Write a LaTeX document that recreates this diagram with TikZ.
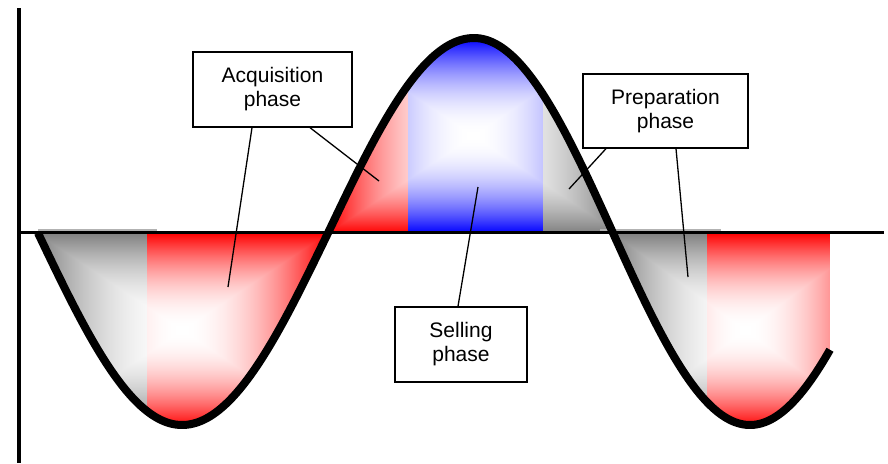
\documentclass[tikz,border=0pt]{standalone}
\usepackage{fontspec}
\setmainfont{Liberation Sans}
\pgfdeclarefunctionalshading{boxred}{\pgfpoint{-50bp}{-50bp}}{\pgfpoint{50bp}{50bp}}{}{abs exch abs 2 copy lt {exch} if pop 25 div dup 1 gt {pop 1} if dup mul 1 exch sub dup 1 3 1 roll}
\pgfdeclarefunctionalshading{boxblue}{\pgfpoint{-50bp}{-50bp}}{\pgfpoint{50bp}{50bp}}{}{abs exch abs 2 copy lt {exch} if pop 25 div dup 1 gt {pop 1} if dup mul 1 exch sub dup 1}
\pgfdeclarefunctionalshading{boxgray}{\pgfpoint{-50bp}{-50bp}}{\pgfpoint{50bp}{50bp}}{}{abs exch abs 2 copy lt {exch} if pop 25 div dup 1 gt {pop 1} if dup mul 0.5 mul 1 exch sub dup dup}
\tikzset{
  curve/.style={line width=8pt, line join=round, black},
  axisline/.style={black},
  label box/.style={draw, line width=1.3pt, fill=white, inner sep=0pt, align=center,
     font=\fontsize{21}{24}\selectfont},
  connector/.style={line width=1.3pt, black},
  rimline/.style={line width=1.5pt, black!30},
  wave/.style={variable=\t, samples=#1},
}
\begin{document}
\begin{tikzpicture}[x=1pt,y=-1pt,
  declare function={
    WX(\t)=(\t<=90) ? (38+\t/90*144) : ((\t<=180) ? (182+(\t-90)/90*146) : ((\t<=270) ? (328+(\t-180)/90*146) : ((\t<=360) ? (474+(\t-270)/90*139) : (613+(\t-360)/90*137))));
    WY(\t)=233+((sin(\t)>0) ? 192 : 195)*sin(\t);
  }]
\useasboundingbox (0,0) rectangle (888,463);
% left trough fills
\begin{scope}
  \clip plot[wave=91, domain=0:180] ({WX(\t)},{WY(\t)}) -- cycle;
  \begin{scope}
    \clip (30,225) rectangle (147,440);
    \shade[shading=boxgray] (37,233) rectangle (327,427);
  \end{scope}
  \begin{scope}
    \clip (147,225) rectangle (340,440);
    \shade[shading=boxred] (37,233) rectangle (327,427);
  \end{scope}
\end{scope}
% peak fills
\begin{scope}
  \clip plot[wave=91, domain=180:360] ({WX(\t)},{WY(\t)}) -- cycle;
  \begin{scope}
    \clip (320,30) rectangle (408,240);
    \shade[shading=boxred] (328,38) rectangle (618,233);
  \end{scope}
  \begin{scope}
    \clip (408,30) rectangle (543,240);
    \shade[shading=boxblue] (328,38) rectangle (618,233);
  \end{scope}
  \begin{scope}
    \clip (543,30) rectangle (620,240);
    \shade[shading=boxgray] (328,38) rectangle (618,233);
  \end{scope}
\end{scope}
% right trough fills
\begin{scope}
  \clip plot[wave=60, domain=360:502.55] ({WX(\t)},{WY(\t)}) -- (830,233) -- cycle;
  \begin{scope}
    \clip (605,225) rectangle (707,440);
    \shade[shading=boxgray] (613,233) rectangle (877,427);
  \end{scope}
  \begin{scope}
    \clip (707,225) rectangle (830,440);
    \shade[shading=boxred] (613,233) rectangle (877,427);
  \end{scope}
\end{scope}
% faint rims
\draw[rimline] (38,230) -- (157,230);
\draw[rimline] (600,230) -- (721,230);
% axes
\coordinate (yaxtop) at (19,8);
\coordinate (yaxbot) at (19,463);
\coordinate (xaxl) at (17,232.5);
\coordinate (xaxr) at (884,232.5);
\draw[axisline, line width=4pt] (yaxtop) -- (yaxbot);
\draw[axisline, line width=3pt] (xaxl) -- (xaxr);
% curve
\draw[curve] plot[wave=282, domain=0:502.55] ({WX(\t)},{WY(\t)});
% labels
\node[label box, minimum width=159pt, minimum height=75pt] (acq) at (272.5,89.5) {Acquisition\\phase};
\node[label box, minimum width=165pt, minimum height=74pt] (prep) at (665.5,111) {Preparation\\phase};
\node[label box, minimum width=132pt, minimum height=75pt] (sell) at (461,344.5) {Selling\\phase};
% connector ends
\coordinate (acqA) at (228,287);
\coordinate (acqB) at (379,181);
\coordinate (sellA) at (478,187);
\coordinate (prepA) at (569,189);
\coordinate (prepB) at (688,277);
\draw[connector] ([xshift=-20.5pt]acq.south) -- (acqA);
\draw[connector] ([xshift=37.5pt]acq.south) -- (acqB);
\draw[connector] ([xshift=-3pt]sell.north) -- (sellA);
\draw[connector] ([xshift=-59.5pt]prep.south) -- (prepA);
\draw[connector] ([xshift=10.5pt]prep.south) -- (prepB);
\end{tikzpicture}
\end{document}
